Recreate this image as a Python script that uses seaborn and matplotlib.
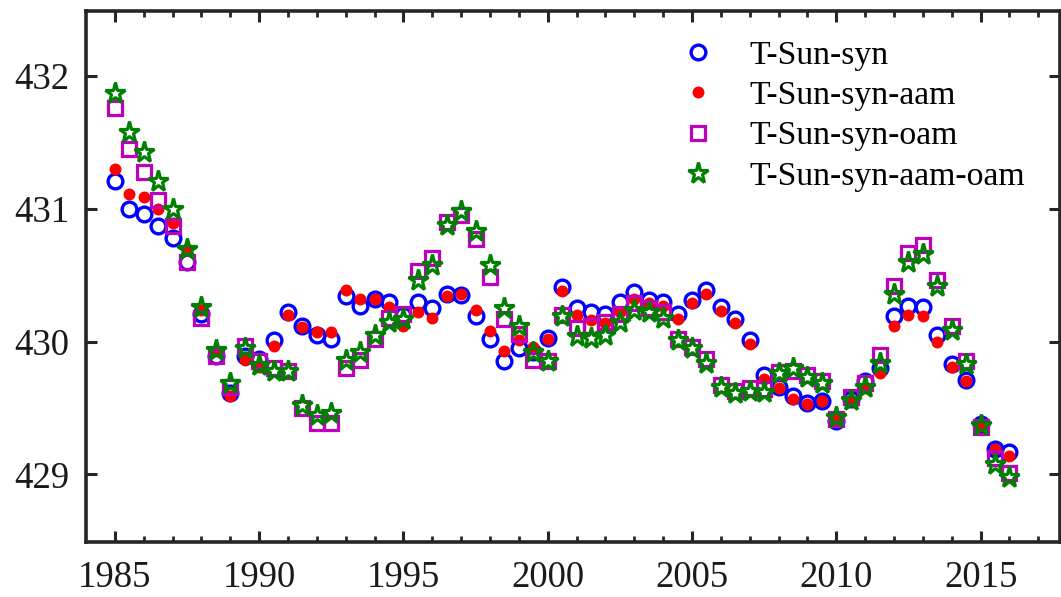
import numpy as np
import pandas as pd
import matplotlib
matplotlib.use("Agg")
import matplotlib.pyplot as plt
import seaborn as sns

years = [1985.0, 1985.5, 1986.0, 1986.5, 1987.0, 1987.5, 1988.0, 1988.5, 1989.0, 1989.5,
         1990.0, 1990.5, 1991.0, 1991.5, 1992.0, 1992.5, 1993.0, 1993.5, 1994.0, 1994.5,
         1995.0, 1995.5, 1996.0, 1996.5, 1997.0, 1997.5, 1998.0, 1998.5, 1999.0, 1999.5,
         2000.0, 2000.5, 2001.0, 2001.5, 2002.0, 2002.5, 2003.0, 2003.5, 2004.0, 2004.5,
         2005.0, 2005.5, 2006.0, 2006.5, 2007.0, 2007.5, 2008.0, 2008.5, 2009.0, 2009.5,
         2010.0, 2010.5, 2011.0, 2011.5, 2012.0, 2012.5, 2013.0, 2013.5, 2014.0, 2014.5,
         2015.0, 2015.5, 2016.0]

syn = [431.21, 431.00, 430.96, 430.87, 430.78, 430.60, 430.21, 429.89, 429.61, 429.89,
       429.87, 430.01, 430.22, 430.12, 430.05, 430.02, 430.34, 430.27, 430.32, 430.30,
       430.20, 430.30, 430.25, 430.36, 430.35, 430.19, 430.02, 429.85, 429.95, 429.92,
       430.03, 430.41, 430.25, 430.22, 430.21, 430.30, 430.37, 430.31, 430.30, 430.21,
       430.31, 430.39, 430.26, 430.17, 430.01, 429.75, 429.66, 429.59, 429.54, 429.55,
       429.40, 429.57, 429.70, 429.80, 430.19, 430.27, 430.26, 430.05, 429.83, 429.71,
       429.38, 429.19, 429.17]

syn_aam = [431.30, 431.11, 431.09, 431.00, 430.89, 430.70, 430.24, 429.93, 429.59, 429.86,
           429.81, 429.97, 430.20, 430.11, 430.07, 430.07, 430.39, 430.32, 430.32, 430.26,
           430.12, 430.22, 430.18, 430.34, 430.36, 430.24, 430.08, 429.93, 430.01, 429.96,
           430.02, 430.38, 430.20, 430.16, 430.14, 430.22, 430.32, 430.29, 430.27, 430.17,
           430.29, 430.36, 430.23, 430.14, 429.98, 429.72, 429.65, 429.57, 429.53, 429.55,
           429.41, 429.55, 429.65, 429.76, 430.12, 430.20, 430.19, 430.00, 429.81, 429.70,
           429.37, 429.19, 429.14]

syn_oam = [431.76, 431.45, 431.28, 431.07, 430.87, 430.60, 430.18, 429.89, 429.66, 429.97,
           429.85, 429.80, 429.78, 429.50, 429.39, 429.39, 429.80, 429.86, 430.02, 430.18,
           430.21, 430.53, 430.63, 430.90, 430.95, 430.77, 430.49, 430.17, 430.06, 429.86,
           429.85, 430.20, 430.10, 430.12, 430.15, 430.21, 430.29, 430.25, 430.22, 430.02,
           429.96, 429.87, 429.67, 429.63, 429.65, 429.64, 429.77, 429.78, 429.75, 429.70,
           429.42, 429.58, 429.69, 429.90, 430.42, 430.67, 430.73, 430.46, 430.12, 429.85,
           429.36, 429.12, 429.01]

syn_aam_oam = [431.87, 431.58, 431.43, 431.21, 431.00, 430.70, 430.26, 429.94, 429.69, 429.95,
               429.82, 429.78, 429.78, 429.52, 429.45, 429.46, 429.86, 429.92, 430.05, 430.15,
               430.17, 430.46, 430.58, 430.88, 430.98, 430.83, 430.58, 430.25, 430.12, 429.92,
               429.85, 430.19, 430.04, 430.03, 430.05, 430.15, 430.24, 430.22, 430.18, 430.01,
               429.95, 429.84, 429.66, 429.61, 429.63, 429.62, 429.76, 429.80, 429.73, 429.69,
               429.43, 429.56, 429.66, 429.84, 430.36, 430.60, 430.66, 430.42, 430.09, 429.83,
               429.37, 429.08, 428.98]

labels = ["T-Sun-syn", "T-Sun-syn-aam", "T-Sun-syn-oam", "T-Sun-syn-aam-oam"]
x_ticks = [1985, 1990, 1995, 2000, 2005, 2010, 2015]
y_ticks = [429, 430, 431, 432]

sns.set_style("ticks")
plt.rcParams["font.family"] = ["Liberation Serif", "DejaVu Serif"]

fig = plt.figure(figsize=(10.61, 5.97), dpi=100)
ax = fig.add_axes([86 / 1061, 55 / 597, (1060 - 86) / 1061, (542 - 11) / 597])

df = pd.DataFrame({"year": years, "syn": syn, "aam": syn_aam, "oam": syn_oam, "ao": syn_aam_oam})

sns.lineplot(data=df, x="year", y="syn", ax=ax, linestyle="none", marker="o",
             markersize=10.6, markerfacecolor="none", markeredgecolor="#0000FF",
             markeredgewidth=2.4, label=labels[0], zorder=3)
sns.lineplot(data=df, x="year", y="aam", ax=ax, linestyle="none", marker="o",
             markersize=8.6, markerfacecolor="#FF0000", markeredgecolor="#FF0000",
             markeredgewidth=0, label=labels[1], zorder=4)
sns.lineplot(data=df, x="year", y="oam", ax=ax, linestyle="none", marker="s",
             markersize=9.8, markerfacecolor="none", markeredgecolor="#BF00BF",
             markeredgewidth=2.3, label=labels[2], zorder=5)
sns.lineplot(data=df, x="year", y="ao", ax=ax, linestyle="none", marker="*",
             markersize=15.5, markerfacecolor="none", markeredgecolor="#008000",
             markeredgewidth=2.3, label=labels[3], zorder=6)

ax.set_xlim(1984.0, 2017.75)
ax.set_ylim(428.49, 432.49)
ax.set_xticks(x_ticks)
ax.set_xticks(np.arange(1985, 2018, 1), minor=True)
ax.set_yticks(y_ticks)
ax.set_xlabel("")
ax.set_ylabel("")

dark = "#262626"
for s in ax.spines.values():
    s.set_visible(True)
    s.set_linewidth(2.6)
    s.set_color(dark)
ax.tick_params(axis="both", which="major", direction="in", length=8, width=2.2,
               color=dark, labelsize=26.5, labelcolor="#1a1a1a", pad=12,
               top=True, right=True)
ax.tick_params(axis="x", which="major", pad=13.5)
ax.tick_params(axis="x", which="minor", direction="in", length=4.5, width=2.0,
               color=dark, top=True, bottom=True)
ax.tick_params(axis="y", which="minor", left=False, right=False)

leg = ax.legend(loc="upper left", bbox_to_anchor=(682 / 1061, 1 - 40 / 597),
                bbox_transform=fig.transFigure, frameon=False, fontsize=24.3,
                handlelength=0.95, handletextpad=1.05, labelspacing=0.29,
                borderpad=0, borderaxespad=0)
for t in leg.get_texts():
    t.set_color("black")

fig.savefig("out.png", dpi=100)
